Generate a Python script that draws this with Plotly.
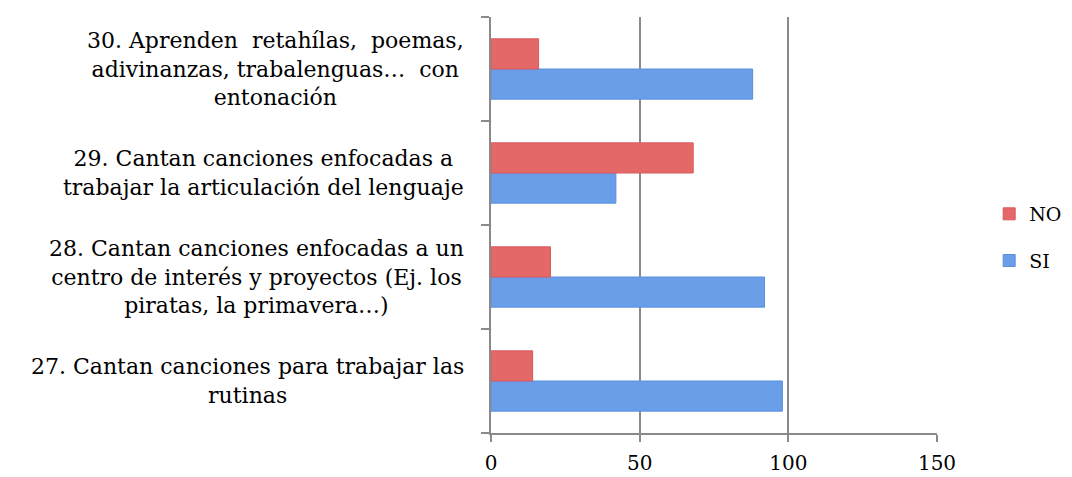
import plotly.graph_objects as go

categories = [
    "27. Cantan canciones para trabajar las<br>rutinas",
    "28. Cantan canciones enfocadas a un<br>centro de interés y proyectos (Ej. los<br>piratas, la primavera…)",
    "29. Cantan canciones enfocadas a<br>trabajar la articulación del lenguaje",
    "30. Aprenden  retahílas,  poemas,<br>adivinanzas, trabalenguas…  con<br>entonación",
]
si_values = [98, 92, 42, 88]
no_values = [14, 20, 68, 16]
x_ticks = [0, 50, 100, 150]

FONT = "DejaVu Serif"
fig = go.Figure()
fig.add_trace(go.Bar(y=categories, x=si_values, name="SI", orientation="h",
                     marker=dict(color="#6A9EE8", line=dict(color="#5A8FDD", width=1)),
                     legendgroup="si", legendrank=2))
fig.add_trace(go.Bar(y=categories, x=no_values, name="NO", orientation="h",
                     marker=dict(color="#E56868", line=dict(color="#D85A5A", width=1)),
                     legendgroup="no", legendrank=1))

for cat in categories:
    fig.add_annotation(x=-0.057, xref="paper", y=cat, yref="y", text=cat,
                       showarrow=False, xanchor="right", align="center",
                       font=dict(family=FONT, size=22, color="#000000"))

fig.update_layout(
    width=1072, height=477,
    margin=dict(l=483, r=143, t=9, b=52),
    paper_bgcolor="white", plot_bgcolor="white",
    barmode="group", bargap=0.42, bargroupgap=0,
    font=dict(family=FONT, size=20, color="#000000"),
    showlegend=True,
    legend=dict(x=1.117, y=0.47, xanchor="left", yanchor="middle",
                traceorder="grouped", tracegroupgap=19,
                font=dict(family=FONT, size=19), itemwidth=30),
)
fig.update_xaxes(range=[0, 150], tickvals=x_ticks, ticktext=[str(v) for v in x_ticks],
                 showgrid=True, gridcolor="#8a8a8a", gridwidth=1.5,
                 showline=True, linecolor="#8a8a8a", linewidth=1.5,
                 ticks="outside", ticklen=7, tickcolor="#8a8a8a", tickwidth=1.5,
                 zeroline=False, tickfont=dict(family=FONT, size=20),
                 ticklabelstandoff=4)
fig.update_yaxes(showticklabels=False, showline=True, linecolor="#8a8a8a", linewidth=1.5,
                 ticks="outside", ticklen=8, tickcolor="#8a8a8a", tickwidth=1.5,
                 tickson="boundaries", showgrid=False)

fig.write_html("out.html")
